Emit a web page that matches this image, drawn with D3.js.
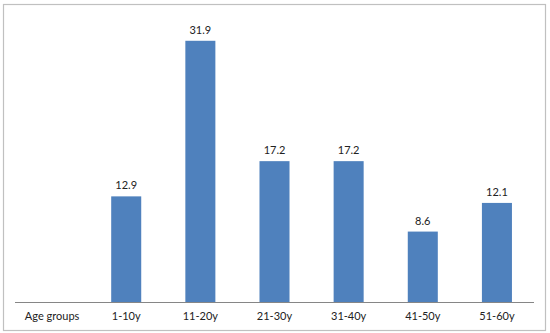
<!DOCTYPE html>
<html><head><meta charset="utf-8">
<script src="https://cdn.jsdelivr.net/npm/d3@7"></script>
<style>body{margin:0;background:#fff}svg{display:block}</style>
</head><body>
<svg id="c" width="550" height="333"></svg>
<script>
const categories = ["Age groups","1-10y","11-20y","21-30y","31-40y","41-50y","51-60y"];
const values = [null,12.9,31.9,17.2,17.2,8.6,12.1];
const labels = ["","12.9","31.9","17.2","17.2","8.6","12.1"];

const svg = d3.select("#c");
svg.append("rect").attr("x",3.5).attr("y",4.5).attr("width",542).attr("height",326)
  .attr("fill","#fff").attr("stroke","#c0c0c0").attr("stroke-width",1.2);

const x = d3.scaleBand().domain(categories).range([15,534]).paddingInner(0.595).paddingOuter(0.2975);
const y = d3.scaleLinear().domain([0,35]).range([302,15.4]);

const data = categories.map((c,i)=>({c, v:values[i], l:labels[i]}));
const g = svg.append("g");
g.selectAll("rect.bar").data(data.filter(d=>d.v!=null)).join("rect").attr("class","bar")
  .attr("x",d=>x(d.c)).attr("width",x.bandwidth())
  .attr("y",d=>y(d.v)).attr("height",d=>y(0)-y(d.v)).attr("fill","#4F81BD");
g.selectAll("text.lab").data(data.filter(d=>d.v!=null)).join("text").attr("class","lab")
  .attr("x",d=>x(d.c)+x.bandwidth()/2).attr("y",d=>y(d.v)-7)
  .attr("text-anchor","middle").attr("font-family","Lato, 'Open Sans', sans-serif")
  .attr("font-size",11).attr("fill","#222").text(d=>d.l);

const ax = d3.axisBottom(x).tickSize(0).tickPadding(10);
const axg = svg.append("g").attr("transform","translate(0,302)").call(ax);
axg.select(".domain").attr("stroke","#868686").attr("d","M15,0.5H534");
axg.selectAll("text").attr("font-family","Lato, 'Open Sans', sans-serif").attr("font-size",11).attr("fill","#222");
</script>
</body></html>
